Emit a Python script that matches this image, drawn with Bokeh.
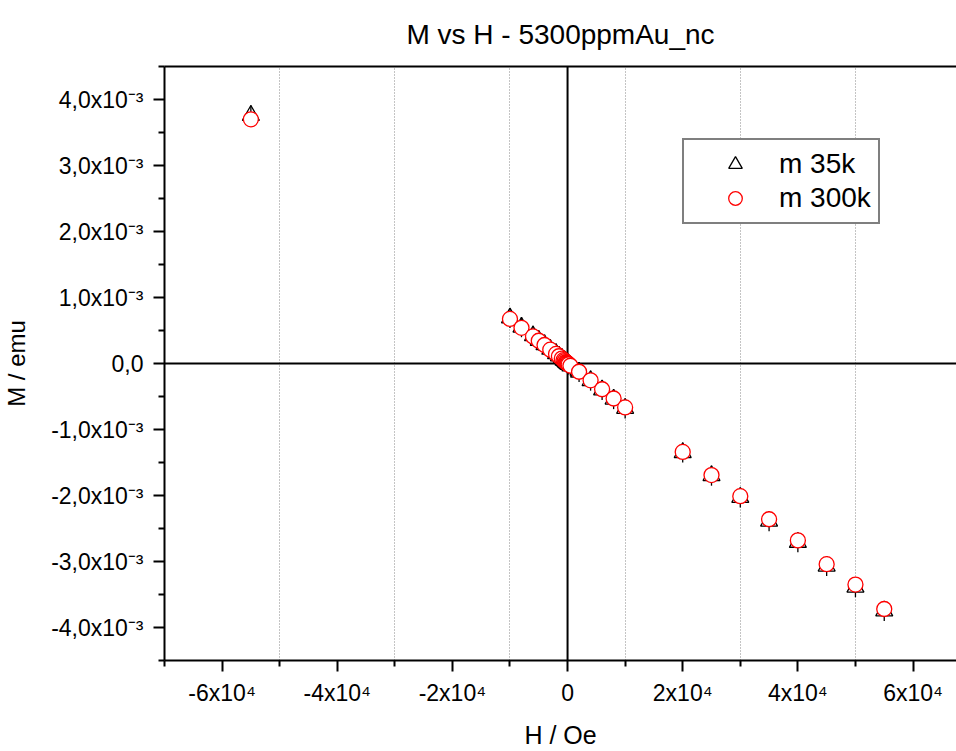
import math
from bokeh.plotting import figure
from bokeh.models import (FixedTicker, CustomJSTickFormatter, Span, LinearAxis, Legend,
                          LegendItem, Range1d, ColumnDataSource)
from bokeh.embed import file_html
from bokeh.resources import INLINE

# ---- data ----
H_oe = [-55000, -10000, -8000, -6000, -5000, -4000, -3000, -2000, -1500, -1000, -700, -500,
        -300, -200, -100, 0, 100, 200, 500, 2000, 4000, 6000, 8000, 10000,
        20000, 25000, 30000, 35000, 40000, 45000, 50000, 55000]
m_35k = [3.76e-3, 0.69e-3, 0.55e-3, 0.42e-3, 0.35e-3, 0.285e-3, 0.215e-3, 0.15e-3, 0.113e-3,
         0.078e-3, 0.052e-3, 0.038e-3, 0.023e-3, 0.016e-3, 0.009e-3, 0.001e-3, -0.007e-3,
         -0.015e-3, -0.036e-3, -0.13e-3, -0.26e-3, -0.40e-3, -0.54e-3, -0.68e-3,
         -1.35e-3, -1.70e-3, -2.03e-3, -2.39e-3, -2.71e-3, -3.07e-3, -3.39e-3, -3.75e-3]
m_300k = [3.70e-3, 0.675e-3, 0.54e-3, 0.41e-3, 0.345e-3, 0.28e-3, 0.21e-3, 0.145e-3, 0.11e-3,
          0.075e-3, 0.05e-3, 0.036e-3, 0.022e-3, 0.015e-3, 0.008e-3, 0.0, -0.007e-3,
          -0.014e-3, -0.034e-3, -0.125e-3, -0.255e-3, -0.39e-3, -0.53e-3, -0.665e-3,
          -1.34e-3, -1.69e-3, -2.01e-3, -2.36e-3, -2.68e-3, -3.04e-3, -3.35e-3, -3.72e-3]

x_ticks = [-60000, -40000, -20000, 0, 20000, 40000, 60000]
x_tick_labels = ["-6x10\u2074", "-4x10\u2074", "-2x10\u2074", "0", "2x10\u2074", "4x10\u2074", "6x10\u2074"]
x_minor = [-70000, -50000, -30000, -10000, 10000, 30000, 50000]
x_grid = [-50000, -30000, -10000, 10000, 30000, 50000]

y_ticks = [-4e-3, -3e-3, -2e-3, -1e-3, 0.0, 1e-3, 2e-3, 3e-3, 4e-3]
y_tick_labels = ["-4,0x10\u207b\u00b3", "-3,0x10\u207b\u00b3", "-2,0x10\u207b\u00b3", "-1,0x10\u207b\u00b3",
                 "0,0", "1,0x10\u207b\u00b3", "2,0x10\u207b\u00b3", "3,0x10\u207b\u00b3", "4,0x10\u207b\u00b3"]
y_minor = [-4.5e-3, -3.5e-3, -2.5e-3, -1.5e-3, -0.5e-3, 0.5e-3, 1.5e-3, 2.5e-3, 3.5e-3, 4.5e-3]

FONT = "Liberation Sans"

src = ColumnDataSource(dict(x=H_oe, y35=m_35k, y300=m_300k))

p = figure(width=956, height=751, x_range=Range1d(-70000, 67550), y_range=Range1d(-4.5e-3, 4.5e-3),
           output_backend="svg", toolbar_location=None,
           min_border_left=163, min_border_right=0, min_border_top=66, min_border_bottom=88)
p.outline_line_color = None
p.background_fill_color = "white"
p.border_fill_color = "white"

p.title.text = "M vs H - 5300ppmAu_nc"
p.title.text_font = FONT
p.title.text_font_size = "28px"
p.title.text_font_style = "normal"
p.title.text_color = "black"
p.title.align = "center"
p.title.vertical_align = "top"
p.title.standoff = 30

fmt_code = """
for (let i = 0; i < vals.length; i++) {
  if (Math.abs(vals[i] - tick) <= 1e-6 * Math.max(1, Math.abs(vals[i]))) return labs[i];
}
return '';
"""

xa = p.xaxis[0]
xa.ticker = FixedTicker(ticks=x_ticks, minor_ticks=x_minor)
xa.formatter = CustomJSTickFormatter(args=dict(vals=x_ticks, labs=x_tick_labels), code=fmt_code)
ya = p.yaxis[0]
ya.ticker = FixedTicker(ticks=y_ticks, minor_ticks=y_minor)
ya.formatter = CustomJSTickFormatter(args=dict(vals=y_ticks, labs=y_tick_labels), code=fmt_code)

for ax in (xa, ya):
    ax.axis_line_width = 2
    ax.axis_line_color = "black"
    ax.major_tick_line_width = 2
    ax.minor_tick_line_width = 2
    ax.major_tick_line_color = "black"
    ax.minor_tick_line_color = "black"
    ax.major_tick_out = 11
    ax.major_tick_in = 0
    ax.minor_tick_out = 6
    ax.minor_tick_in = 0
    ax.major_label_text_font = FONT
    ax.major_label_text_font_size = "23px"
    ax.major_label_text_color = "black"
    ax.axis_label_text_font = FONT
    ax.axis_label_text_font_size = "25px"
    ax.axis_label_text_font_style = "normal"
    ax.axis_label_text_color = "black"

xa.major_label_standoff = 8
xa.axis_label = "H / Oe"
xa.axis_label_standoff = 12
ya.major_label_standoff = 10
ya.axis_label = "M / emu"
ya.axis_label_text_font_size = "24px"
ya.axis_label_standoff = 18

top = LinearAxis(ticker=FixedTicker(ticks=[]), axis_line_width=2, axis_line_color="black",
                 major_tick_line_color=None, minor_tick_line_color=None,
                 major_label_text_font_size="0px")
p.add_layout(top, "above")

p.xgrid.ticker = FixedTicker(ticks=x_grid)
p.xgrid.grid_line_color = "#888888"
p.xgrid.grid_line_dash = "1 2"
p.xgrid.grid_line_width = 1
p.ygrid.visible = False

p.add_layout(Span(location=0, dimension="height", line_color="black", line_width=2, level="underlay"))
p.add_layout(Span(location=0, dimension="width", line_color="black", line_width=2, level="underlay"))

r_dash = p.scatter("x", "y35", source=src, marker="dash", angle=math.pi / 2, size=20,
                   line_color="black", line_width=1.3)
r_tri = p.scatter("x", "y35", source=src, marker="triangle", size=17,
                  line_color="black", fill_color=None, line_width=1.3)
r_circ = p.scatter("x", "y300", source=src, marker="circle", size=15,
                   line_color="red", fill_color="white", line_width=1.3)

legend = Legend(items=[LegendItem(label="m 35k", renderers=[r_tri]),
                       LegendItem(label="m 300k", renderers=[r_circ])],
                location=(518, 436))
legend.label_text_font = FONT
legend.label_text_font_size = "28px"
legend.label_text_color = "black"
legend.glyph_width = 88
legend.glyph_height = 34
legend.label_height = 34
legend.label_standoff = 0
legend.padding = 7
legend.spacing = 0
legend.margin = 0
legend.border_line_color = "black"
legend.border_line_width = 2
legend.background_fill_alpha = 1
p.add_layout(legend)

open("out.html", "w").write(file_html(p, INLINE))
